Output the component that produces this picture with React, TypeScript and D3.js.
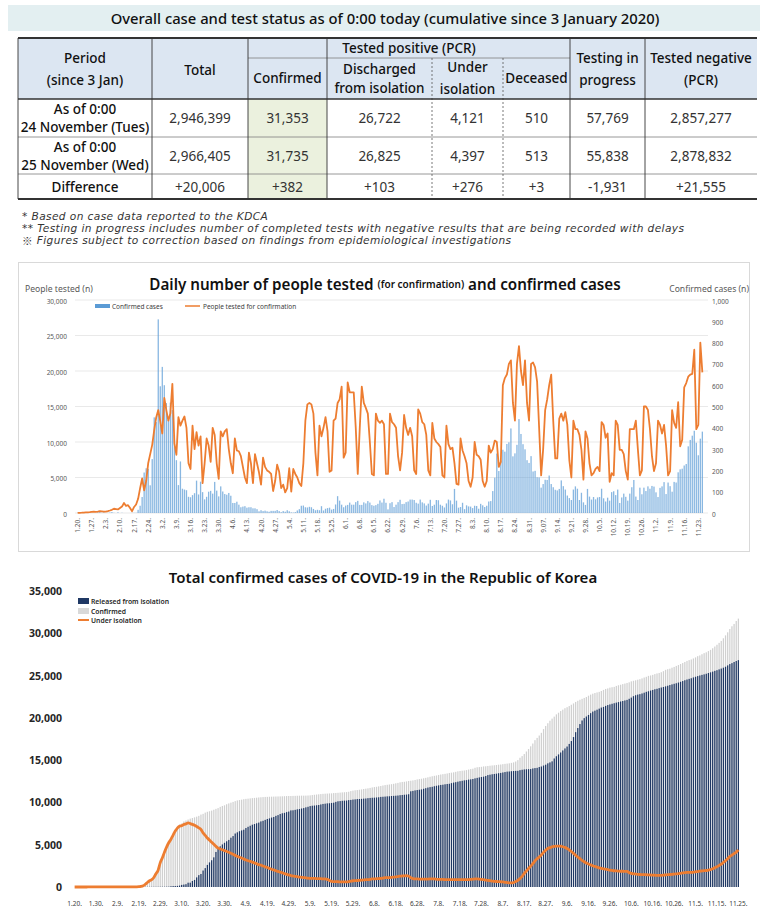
import React from 'react';
import * as d3 from 'd3';

const FONT = "'Noto Sans', 'Open Sans', sans-serif";

// ---------- table ----------
const tableTitle = 'Overall case and test status as of 0:00 today (cumulative since 3 January 2020)';
const rowPeriods = [
  ['As of 0:00', '24 November (Tues)'],
  ['As of 0:00', '25 November (Wed)'],
  ['Difference'],
];
const rowValues = [
  ['2,946,399', '31,353', '26,722', '4,121', '510', '57,769', '2,857,277'],
  ['2,966,405', '31,735', '26,825', '4,397', '513', '55,838', '2,878,832'],
  ['+20,006', '+382', '+103', '+276', '+3', '-1,931', '+21,555'],
];
const footnoteMarks = ['*', '**', '\u203B'];
const footnotes = [
  ' Based on case data reported to the KDCA',
  ' Testing in progress includes number of completed tests with negative results that are being recorded with delays',
  ' Figures subject to correction based on findings from epidemiological investigations',
];

// ---------- chart 1: daily, 1.20 - 11.25 ----------
const dailyConfirmed = [
  1, 0, 0, 0, 1, 0, 1, 1, 0, 0, 3, 4,
  1, 3, 0, 1, 2, 4, 1, 0, 3, 0, 1, 0, 0, 0, 0, 1, 1, 1, 15, 34, 75, 190, 210, 207, 130, 253, 449, 427, 909,
  595, 686, 600, 516, 438, 518, 483, 367, 248, 131, 242, 114, 110, 107, 76, 74, 84, 93, 152, 87, 147, 98, 64, 76, 100, 104, 91, 146, 105, 78, 125,
  101, 89, 86, 94, 81, 47, 47, 53, 39, 27, 30, 32, 25, 27, 27, 22, 22, 18, 8, 13, 9, 11, 8, 6, 10, 10, 10, 14, 9, 4,
  9, 6, 13, 8, 3, 2, 4, 12, 18, 34, 35, 27, 26, 29, 27, 19, 13, 15, 13, 32, 12, 20, 23, 25, 16, 19, 40, 79, 58, 39, 27,
  35, 38, 49, 39, 39, 51, 57, 38, 38, 50, 45, 56, 49, 37, 34, 37, 43, 59, 49, 67, 48, 17, 46, 51, 28, 39, 51, 62, 42, 43,
  51, 54, 63, 63, 61, 48, 44, 63, 50, 45, 35, 44, 62, 33, 39, 61, 60, 39, 34, 26, 45, 63, 59, 41, 113, 58, 25, 28, 48, 18, 36,
  31, 30, 23, 34, 33, 20, 43, 36, 28, 34, 54, 56, 103, 166, 279, 197, 246, 297, 288, 324, 332, 397, 266, 280, 320, 441, 371, 323, 299, 248, 235,
  267, 195, 198, 168, 167, 119, 136, 156, 155, 176, 136, 121, 109, 106, 113, 153, 126, 110, 82, 70, 61, 110, 125, 114, 61, 95, 50, 38, 113, 77,
  63, 75, 64, 73, 75, 114, 69, 54, 72, 58, 98, 102, 84, 110, 47, 73, 91, 76, 58, 91, 121, 155, 77, 61, 119, 88, 119, 103, 125, 114, 127,
  124, 97, 75, 118, 125, 145, 89, 143, 126, 100, 146, 143, 191, 205, 208, 223, 230, 313, 343, 363, 386, 330, 271, 349, 382,
];
const dailyTested = [
  20, 30, 40, 60, 80, 100, 120, 150, 180, 160, 200, 260,
  220, 180, 200, 260, 350, 450, 600, 550, 500, 700, 900, 1400, 1000, 1100, 700, 250, 850, 1200, 2000, 3500, 4860, 3200, 4500, 7000, 8300, 9600, 11700, 13500, 14500,
  12900, 11200, 16200, 14500, 13000, 14000, 18200, 9800, 8200, 13500, 12300, 13000, 13600, 12000, 7000, 6200, 12300, 9000, 11400, 9500, 10800, 4200, 7000, 10500, 9500, 7200, 12000, 11000, 7000, 4800, 11500,
  10800, 11500, 11800, 9000, 7000, 5600, 10500, 8800, 8700, 8000, 6500, 5000, 4200, 8500, 7000, 4200, 8300, 7000, 5700, 4000, 7800, 6500, 6000, 5800, 5500, 3100, 4500, 6800, 5800, 3500,
  4000, 2900, 3500, 6300, 3000, 6200, 5500, 5000, 4200, 3800, 7000, 13000, 15300, 15500, 15300, 14000, 8500, 5300, 12300, 10800, 12000, 13500, 11500, 5800, 6000, 13000, 13300, 15500, 16000, 17800, 7800,
  8500, 18400, 17000, 17000, 17000, 12000, 5500, 12000, 17800, 15500, 14800, 14000, 10000, 5500, 5300, 14000, 13000, 12700, 13000, 12500, 5500, 5500, 14000, 12800, 12500, 12000, 8000, 6000, 8500, 13800,
  12000, 11000, 12000, 10800, 6000, 5500, 14600, 14000, 12800, 12500, 11000, 6000, 5300, 12700, 10500, 10000, 9700, 9300, 5300, 5000, 12300, 9700, 9000, 9200, 7000, 4100, 4000, 10500, 8800, 8000, 7000,
  4500, 3700, 5000, 10000, 8200, 8000, 7500, 4500, 3700, 4500, 9500, 8500, 9000, 10200, 10000, 6500, 7200, 18000, 19000, 19500, 21000, 21500, 15500, 13000, 21000, 23500, 20000, 18000, 21500, 15500, 13000,
  21000, 21200, 20500, 18500, 12000, 5300, 9000, 14500, 16000, 18000, 19500, 13000, 7700, 7700, 13300, 14000, 13000, 14200, 12400, 7400, 5000, 13000, 11800, 11800, 11000, 8900, 4700, 11500, 10500, 7000,
  5300, 5600, 6200, 6500, 5900, 12800, 12400, 10600, 11200, 4400, 5600, 5300, 13000, 12400, 8900, 8900, 8300, 5900, 4700, 11800, 11800, 11800, 13000, 9000, 5300, 6000, 15000, 15000, 14500, 11800, 8000,
  5900, 7000, 13000, 12400, 11200, 12400, 9500, 5300, 5900, 14500, 12700, 12000, 15600, 9400, 10300, 17700, 18300, 19200, 19500, 19600, 23000, 11800, 12400, 24000, 19800,
];
const weeklyTicks = [
  '1.20.', '1.27.', '2.3.', '2.10.', '2.17.', '2.24.', '3.2.', '3.9.', '3.16.', '3.23.', '3.30.', '4.6.', '4.13.', '4.20.', '4.27.',
  '5.4.', '5.11.', '5.18.', '5.25.', '6.1.', '6.8.', '6.15.', '6.22.', '6.29.', '7.6.', '7.13.', '7.20.', '7.27.', '8.3.', '8.10.',
  '8.17.', '8.24.', '8.31.', '9.07.', '9.14.', '9.21.', '9.28.', '10.5.', '10.12.', '10.19.', '10.26.', '11.2.', '11.9.', '11.16.', '11.23.',
];
const testedTicks = [0, 5000, 10000, 15000, 20000, 25000, 30000];
const confirmedTicks = [0, 100, 200, 300, 400, 500, 600, 700, 800, 900, 1000];

// ---------- chart 2: cumulative, 1.20 - 11.25 ----------
const totalConfirmed = [
  1, 1, 1, 1, 2, 2, 3, 4, 4, 4, 7, 11,
  12, 15, 15, 16, 18, 22, 23, 23, 26, 26, 27, 27, 27, 27, 27, 28, 29, 30, 45, 79, 154, 344, 554, 761, 891, 1144, 1593, 2020, 2929,
  3524, 4210, 4810, 5326, 5764, 6282, 6765, 7132, 7380, 7511, 7753, 7867, 7977, 8084, 8160, 8234, 8318, 8411, 8563, 8650, 8797, 8895, 8959, 9035, 9135, 9239, 9330, 9476, 9581, 9659, 9784,
  9885, 9974, 10060, 10154, 10235, 10282, 10329, 10382, 10421, 10448, 10478, 10510, 10535, 10562, 10589, 10611, 10633, 10651, 10659, 10672, 10681, 10692, 10700, 10706, 10716, 10726, 10736, 10750, 10759, 10763,
  10772, 10778, 10791, 10799, 10802, 10804, 10808, 10820, 10838, 10872, 10907, 10934, 10960, 10989, 11016, 11035, 11048, 11063, 11076, 11108, 11120, 11140, 11163, 11188, 11204, 11223, 11263, 11342, 11400, 11439, 11466,
  11501, 11539, 11588, 11627, 11666, 11717, 11774, 11812, 11850, 11900, 11945, 12001, 12050, 12087, 12121, 12158, 12201, 12260, 12309, 12376, 12424, 12441, 12487, 12538, 12566, 12605, 12656, 12718, 12760, 12803,
  12854, 12908, 12971, 13034, 13095, 13143, 13187, 13250, 13300, 13345, 13380, 13424, 13486, 13519, 13558, 13619, 13679, 13718, 13752, 13778, 13823, 13886, 13945, 13986, 14099, 14157, 14182, 14210, 14258, 14276, 14312,
  14343, 14373, 14396, 14430, 14463, 14483, 14526, 14562, 14590, 14624, 14678, 14734, 14837, 15003, 15282, 15479, 15725, 16022, 16310, 16634, 16966, 17363, 17629, 17909, 18229, 18670, 19041, 19364, 19663, 19911, 20146,
  20413, 20608, 20806, 20974, 21141, 21260, 21396, 21552, 21707, 21883, 22019, 22140, 22249, 22355, 22468, 22621, 22747, 22857, 22939, 23009, 23070, 23180, 23305, 23419, 23480, 23575, 23625, 23663, 23776, 23853,
  23916, 23991, 24055, 24128, 24203, 24317, 24386, 24440, 24512, 24570, 24668, 24770, 24854, 24964, 25011, 25084, 25175, 25251, 25309, 25400, 25521, 25676, 25753, 25814, 25933, 26021, 26140, 26243, 26368, 26482, 26609,
  26733, 26830, 26905, 27023, 27148, 27293, 27382, 27525, 27651, 27751, 27897, 28040, 28231, 28436, 28644, 28867, 29097, 29410, 29753, 30116, 30502, 30832, 31103, 31452, 31735,
];
const releasedFromIsolation = [
  0, 0, 0, 0, 0, 0, 0, 0, 0, 0, 0, 0,
  0, 0, 0, 0, 1, 2, 2, 3, 3, 4, 7, 7, 7, 7, 9, 9, 10, 10, 12, 16, 16, 16, 17, 18, 18, 22, 22, 24, 27,
  30, 30, 34, 41, 88, 108, 118, 130, 166, 247, 288, 333, 510, 510, 714, 834, 1137, 1401, 1540, 1947, 2233, 2612, 2909, 3166, 3507, 4144, 4528, 4811, 5033, 5228, 5408,
  5567, 5828, 6021, 6325, 6463, 6598, 6694, 6776, 6973, 7117, 7243, 7368, 7447, 7534, 7616, 7757, 7829, 7937, 8042, 8114, 8213, 8277, 8411, 8501, 8635, 8717, 8764, 8854, 8922, 9059,
  9072, 9123, 9183, 9217, 9283, 9333, 9419, 9484, 9568, 9610, 9632, 9666, 9695, 9762, 9821, 9851, 9888, 9904, 9938, 9970, 10066, 10135, 10162, 10194, 10213, 10226, 10275, 10295, 10340, 10363, 10398,
  10405, 10422, 10446, 10467, 10506, 10531, 10552, 10564, 10589, 10611, 10654, 10669, 10691, 10718, 10730, 10760, 10774, 10794, 10818, 10856, 10881, 10908, 10930, 10970, 11317, 11364, 11422, 11467, 11501, 11537,
  11613, 11684, 11759, 11811, 11848, 11914, 11970, 12019, 12066, 12096, 12144, 12181, 12204, 12282, 12348, 12396, 12456, 12513, 12561, 12610, 12640, 12698, 12730, 12771, 12845, 12903, 12957, 13007, 13049, 13120, 13233,
  13280, 13330, 13364, 13400, 13455, 13487, 13543, 13592, 13642, 13660, 13692, 13714, 13729, 13738, 13817, 13863, 13901, 13919, 13934, 13948, 14019, 14063, 14090, 14184, 14249, 14363, 14461, 14624, 14732, 14856, 15198,
  15461, 15676, 15905, 16146, 16384, 16609, 16918, 17259, 17729, 18310, 18797, 19267, 19690, 19970, 20158, 20343, 20556, 20743, 20851, 20965, 21090, 21216, 21292, 21413, 21514, 21590, 21666, 21729, 21800, 21863,
  21934, 21993, 22058, 22125, 22253, 22395, 22565, 22675, 22752, 22803, 22883, 22974, 23074, 23144, 23230, 23301, 23383, 23436, 23514, 23588, 23649, 23723, 23800, 23880, 23958, 24029, 24094, 24174, 24264, 24353, 24449,
  24534, 24612, 24685, 24780, 24859, 24939, 25012, 25083, 25144, 25215, 25301, 25382, 25467, 25560, 25637, 25732, 25827, 25930, 26044, 26203, 26361, 26472, 26604, 26722, 26825,
];
const underIsolation = [
  1, 1, 1, 1, 2, 2, 3, 4, 4, 4, 7, 11,
  12, 15, 15, 16, 17, 20, 21, 20, 23, 22, 20, 20, 20, 20, 18, 19, 19, 20, 33, 62, 137, 327, 535, 740, 870, 1118, 1567, 1990, 2886,
  3470, 4145, 4750, 5255, 5650, 6140, 6610, 6960, 7180, 7250, 7400, 7470, 7577, 7500, 7410, 7300, 7160, 7000, 6800, 6400, 6100, 5800, 5550, 5300, 5050, 4800, 4600, 4500, 4400, 4300, 4200,
  4100, 3980, 3860, 3740, 3620, 3520, 3420, 3300, 3200, 3100, 3020, 2950, 2850, 2750, 2640, 2580, 2480, 2380, 2300, 2200, 2100, 2020, 1920, 1850, 1750, 1690, 1580, 1500, 1430, 1350,
  1300, 1260, 1220, 1180, 1150, 1120, 1080, 1050, 1030, 1020, 1010, 1000, 990, 980, 960, 950, 900, 780, 660, 640, 630, 620, 610, 600, 600, 610, 640, 700, 740, 760, 770,
  790, 810, 840, 860, 880, 910, 950, 960, 980, 1000, 1020, 1050, 1100, 1110, 1120, 1140, 1170, 1200, 1240, 1280, 1300, 1320, 1330, 1300, 1100, 1000, 960, 950, 940, 930,
  920, 930, 940, 950, 960, 950, 920, 900, 900, 890, 880, 880, 880, 870, 870, 870, 880, 880, 880, 870, 870, 880, 900, 920, 950, 960, 940, 900, 860, 820, 780,
  750, 700, 670, 650, 640, 620, 600, 560, 530, 500, 480, 520, 650, 780, 1000, 1250, 1600, 1900, 2180, 2460, 2750, 3100, 3350, 3550, 3800, 4100, 4350, 4550, 4650, 4750, 4800,
  4830, 4840, 4820, 4760, 4680, 4560, 4400, 4200, 3980, 3760, 3550, 3350, 3150, 2980, 2850, 2730, 2620, 2520, 2430, 2350, 2270, 2200, 2150, 2100, 2050, 2000, 1960, 1920, 1900, 1880,
  1860, 1860, 1850, 1850, 1700, 1600, 1560, 1530, 1500, 1480, 1470, 1460, 1450, 1430, 1420, 1400, 1390, 1380, 1370, 1380, 1400, 1430, 1460, 1480, 1500, 1520, 1550, 1580, 1620, 1660, 1700,
  1720, 1730, 1720, 1750, 1790, 1830, 1870, 1900, 1930, 1950, 1990, 2050, 2150, 2280, 2400, 2550, 2700, 2900, 3100, 3350, 3600, 3780, 3950, 4121, 4397,
];
const tenDayTicks = [
  '1.20.', '1.30.', '2.9.', '2.19.', '2.29.', '3.10.', '3.20.', '3.30.', '4.9.', '4.19.', '4.29.', '5.9.', '5.19.', '5.29.', '6.8.', '6.18.',
  '6.28.', '7.8.', '7.18.', '7.28.', '8.7.', '8.17.', '8.27.', '9.6.', '9.16.', '9.26.', '10.6.', '10.16.', '10.26.', '11.5.', '11.15.', '11.25.',
];
const totalTicks = [0, 5000, 10000, 15000, 20000, 25000, 30000, 35000];

const ORANGE = '#ed7d31';
const BLUE = '#5b9bd5';
const NAVY = '#1f3864';

const Table: React.FC = () => {
  const edges = [18, 152, 248, 327, 432, 503, 570, 645, 757];
  const mid = (i: number) => (edges[i] + edges[i + 1]) / 2;
  const rowTop = [99, 137, 174];
  const rowBot = [137, 174, 199];
  const headFill = '#dce6f2';
  const hs = { fontFamily: FONT, fontSize: 13.5, fill: '#111', fontWeight: 500 } as const;
  return (
    <g>
      <rect x={8} y={5} width={752} height={26} fill="#e3eff1" />
      <text x={385} y={18} textAnchor="middle" dominantBaseline="central" style={{ fontFamily: FONT, fontSize: 14.8, fill: '#111', fontWeight: 500 }}>{tableTitle}</text>
      <rect x={18} y={38} width={739} height={61} fill={headFill} />
      <rect x={edges[2]} y={99} width={edges[3] - edges[2]} height={100} fill="#ebf1de" />
      {/* header text */}
      <text x={mid(0)} y={58} textAnchor="middle" dominantBaseline="central" style={hs}>Period</text>
      <text x={mid(0)} y={80} textAnchor="middle" dominantBaseline="central" style={hs}>(since 3 Jan)</text>
      <text x={mid(1)} y={70} textAnchor="middle" dominantBaseline="central" style={hs}>Total</text>
      <text x={(edges[2] + edges[6]) / 2} y={48} textAnchor="middle" dominantBaseline="central" style={hs}>Tested positive (PCR)</text>
      <text x={mid(2)} y={78} textAnchor="middle" dominantBaseline="central" style={hs}>Confirmed</text>
      <text x={mid(3)} y={69} textAnchor="middle" dominantBaseline="central" style={hs}>Discharged</text>
      <text x={mid(3)} y={88} textAnchor="middle" dominantBaseline="central" style={hs}>from isolation</text>
      <text x={mid(4)} y={67} textAnchor="middle" dominantBaseline="central" style={hs}>Under</text>
      <text x={mid(4)} y={89} textAnchor="middle" dominantBaseline="central" style={hs}>isolation</text>
      <text x={mid(5)} y={78} textAnchor="middle" dominantBaseline="central" style={hs}>Deceased</text>
      <text x={mid(6)} y={58} textAnchor="middle" dominantBaseline="central" style={hs}>Testing in</text>
      <text x={mid(6)} y={80} textAnchor="middle" dominantBaseline="central" style={hs}>progress</text>
      <text x={mid(7)} y={58} textAnchor="middle" dominantBaseline="central" style={hs}>Tested negative</text>
      <text x={mid(7)} y={80} textAnchor="middle" dominantBaseline="central" style={hs}>(PCR)</text>
      {/* body */}
      {rowPeriods.map((p, r) => {
        const cy = (rowTop[r] + rowBot[r]) / 2;
        return (
          <g key={r}>
            {p.length === 2 ? (
              <>
                <text x={mid(0)} y={cy - 9} textAnchor="middle" dominantBaseline="central" style={hs}>{p[0]}</text>
                <text x={mid(0)} y={cy + 9} textAnchor="middle" dominantBaseline="central" style={hs}>{p[1]}</text>
              </>
            ) : (
              <text x={mid(0)} y={cy} textAnchor="middle" dominantBaseline="central" style={hs}>{p[0]}</text>
            )}
            {rowValues[r].map((v, c) => (
              <text key={c} x={mid(c + 1)} y={cy} textAnchor="middle" dominantBaseline="central"
                style={{ fontFamily: FONT, fontSize: 13.5, fill: '#333' }}>{v}</text>
            ))}
          </g>
        );
      })}
      {/* grid lines */}
      <line x1={edges[2]} x2={edges[6]} y1={58} y2={58} stroke="#7f7f7f" strokeWidth={0.8} />
      {[137, 174].map((y) => <line key={y} x1={18} x2={757} y1={y} y2={y} stroke="#7f7f7f" strokeWidth={0.8} />)}
      {[1, 2, 3, 6, 7].map((i) => (
        <line key={i} x1={edges[i]} x2={edges[i]} y1={38} y2={199} stroke="#333" strokeWidth={0.9} />
      ))}
      {[4, 5].map((i) => (
        <line key={i} x1={edges[i]} x2={edges[i]} y1={58} y2={199} stroke="#555" strokeWidth={0.8} strokeDasharray="2,2" />
      ))}
      <line x1={18} x2={18} y1={38} y2={199} stroke="#333" strokeWidth={0.9} />
      <line x1={18} x2={757} y1={38} y2={38} stroke="#333" strokeWidth={2} />
      <line x1={18} x2={757} y1={99} y2={99} stroke="#333" strokeWidth={1.5} />
      <line x1={18} x2={757} y1={199} y2={199} stroke="#333" strokeWidth={2} />
      {footnotes.map((f, i) => (
        <text key={i} x={22} y={216 + i * 12} dominantBaseline="central"
          style={{ fontFamily: "'DejaVu Sans', sans-serif", fontSize: 10.6, fontStyle: 'italic', fill: '#333', letterSpacing: 0.4 }}>
          <tspan style={i === 2 ? { fontFamily: "'Noto Sans CJK KR', sans-serif", fontStyle: 'normal' } : undefined}>{footnoteMarks[i]}</tspan>
          {f}
        </text>
      ))}
    </g>
  );
};

const DailyChart: React.FC = () => {
  const idx = d3.range(dailyTested.length);
  const x = d3.scaleBand<number>().domain(idx).range([77, 703]).paddingInner(0.35);
  const cx = (i: number) => (x(i) as number) + x.bandwidth() / 2;
  const yL = d3.scaleLinear().domain([0, 30000]).range([513, 300]);
  const yR = d3.scaleLinear().domain([0, 1000]).range([513, 300]);
  const line = d3.line<number>().x((_, i) => cx(i)).y((d) => yL(d));
  const tick = { fontFamily: FONT, fontSize: 6.5, fill: '#595959' };
  return (
    <g>
      <rect x={18.5} y={262.5} width={731} height={289} fill="none" stroke="#d9d9d9" />
      <text x={385} y={284} textAnchor="middle" dominantBaseline="central" style={{ fontFamily: FONT, fill: '#111', fontWeight: 600 }}>
        <tspan fontSize={15.2}>Daily number of people tested </tspan>
        <tspan fontSize={10}>(for confirmation)</tspan>
        <tspan fontSize={15.2}> and confirmed cases</tspan>
      </text>
      <text x={25} y={289} dominantBaseline="central" style={{ fontFamily: FONT, fontSize: 8.6, fill: '#595959' }}>People tested (n)</text>
      <text x={749} y={289} textAnchor="end" dominantBaseline="central" style={{ fontFamily: FONT, fontSize: 8.6, fill: '#595959' }}>Confirmed cases (n)</text>
      {testedTicks.map((t) => (
        <g key={t}>
          <line x1={75} x2={708} y1={yL(t)} y2={yL(t)} stroke="#e3e3e3" strokeWidth={0.8} />
          <text x={67} y={yL(t) + 1} textAnchor="end" dominantBaseline="central" style={tick}>{d3.format(',')(t)}</text>
        </g>
      ))}
      {confirmedTicks.map((t) => (
        <text key={t} x={712} y={yR(t) + 1} dominantBaseline="central" style={tick}>{d3.format(',')(t)}</text>
      ))}
      {dailyConfirmed.map((d, i) => (
        <rect key={i} x={x(i)} y={yR(d)} width={x.bandwidth()} height={513 - yR(d)} fill={BLUE} opacity={0.72} />
      ))}
      <path d={line(dailyTested) ?? ''} fill="none" stroke={ORANGE} strokeWidth={1.8} strokeLinejoin="round" />
      {weeklyTicks.map((t, k) => (
        <text key={t} transform={`translate(${cx(k * 7)},518) rotate(-90)`} textAnchor="end" dominantBaseline="central" style={tick}>{t}</text>
      ))}
      <rect x={95} y={304} width={15} height={4} fill={BLUE} />
      <text x={112} y={306} dominantBaseline="central" style={{ ...tick, fill: '#404040' }}>Confirmed cases</text>
      <line x1={185} x2={200} y1={306} y2={306} stroke={ORANGE} strokeWidth={1.5} />
      <text x={203} y={306} dominantBaseline="central" style={{ ...tick, fill: '#404040' }}>People tested for confirmation</text>
    </g>
  );
};

const TotalChart: React.FC = () => {
  const idx = d3.range(totalConfirmed.length);
  const x = d3.scaleBand<number>().domain(idx).range([74, 739]).paddingInner(0.42);
  const cx = (i: number) => (x(i) as number) + x.bandwidth() / 2;
  const y = d3.scaleLinear().domain([0, 35000]).range([887, 591]);
  const line = d3.line<number>().x((_, i) => cx(i)).y((d) => y(d)).curve(d3.curveMonotoneX);
  const leg = { fontFamily: FONT, fontSize: 6.8, fill: '#262626', fontWeight: 600 };
  return (
    <g>
      <text x={383} y={577} textAnchor="middle" dominantBaseline="central" style={{ fontFamily: FONT, fontSize: 15, fontWeight: 600, fill: '#111' }}>
        Total confirmed cases of COVID-19 in the Republic of Korea
      </text>
      {totalTicks.map((t) => (
        <text key={t} x={62} y={y(t)} textAnchor="end" dominantBaseline="central" style={{ fontFamily: FONT, fontSize: 10.5, fontWeight: 700, fill: '#262626' }}>
          {d3.format(',')(t)}
        </text>
      ))}
      {totalConfirmed.map((d, i) => (
        <rect key={`c${i}`} x={x(i)} y={y(d)} width={x.bandwidth()} height={887 - y(d)} fill="#d0d0d0" />
      ))}
      {releasedFromIsolation.map((d, i) => (
        <rect key={`r${i}`} x={x(i)} y={y(d)} width={x.bandwidth()} height={887 - y(d)} fill={NAVY} />
      ))}
      <path d={line(underIsolation) ?? ''} fill="none" stroke={ORANGE} strokeWidth={2.8} strokeLinejoin="round" />
      {tenDayTicks.map((t, k) => (
        <text key={t} x={cx(k * 10)} y={903} textAnchor="middle" dominantBaseline="central" style={{ fontFamily: FONT, fontSize: 6.5, fill: '#404040' }}>{t}</text>
      ))}
      <rect x={78} y={598} width={11} height={6} fill={NAVY} />
      <text x={91} y={601} dominantBaseline="central" style={leg}>Released from isolation</text>
      <rect x={78} y={608} width={11} height={6} fill="#d9d9d9" />
      <text x={91} y={611} dominantBaseline="central" style={leg}>Confirmed</text>
      <line x1={78} x2={89} y1={620} y2={620} stroke={ORANGE} strokeWidth={2} />
      <text x={91} y={620} dominantBaseline="central" style={leg}>Under isolation</text>
    </g>
  );
};

export default function App() {
  return (
    <div style={{ background: '#fff' }}>
      <style>{'body{margin:0;background:#fff}'}</style>
      <svg width={767} height={914} viewBox="0 0 767 914" style={{ display: 'block' }}>
        <rect width={767} height={914} fill="#fff" />
        <Table />
        <DailyChart />
        <TotalChart />
      </svg>
    </div>
  );
}
